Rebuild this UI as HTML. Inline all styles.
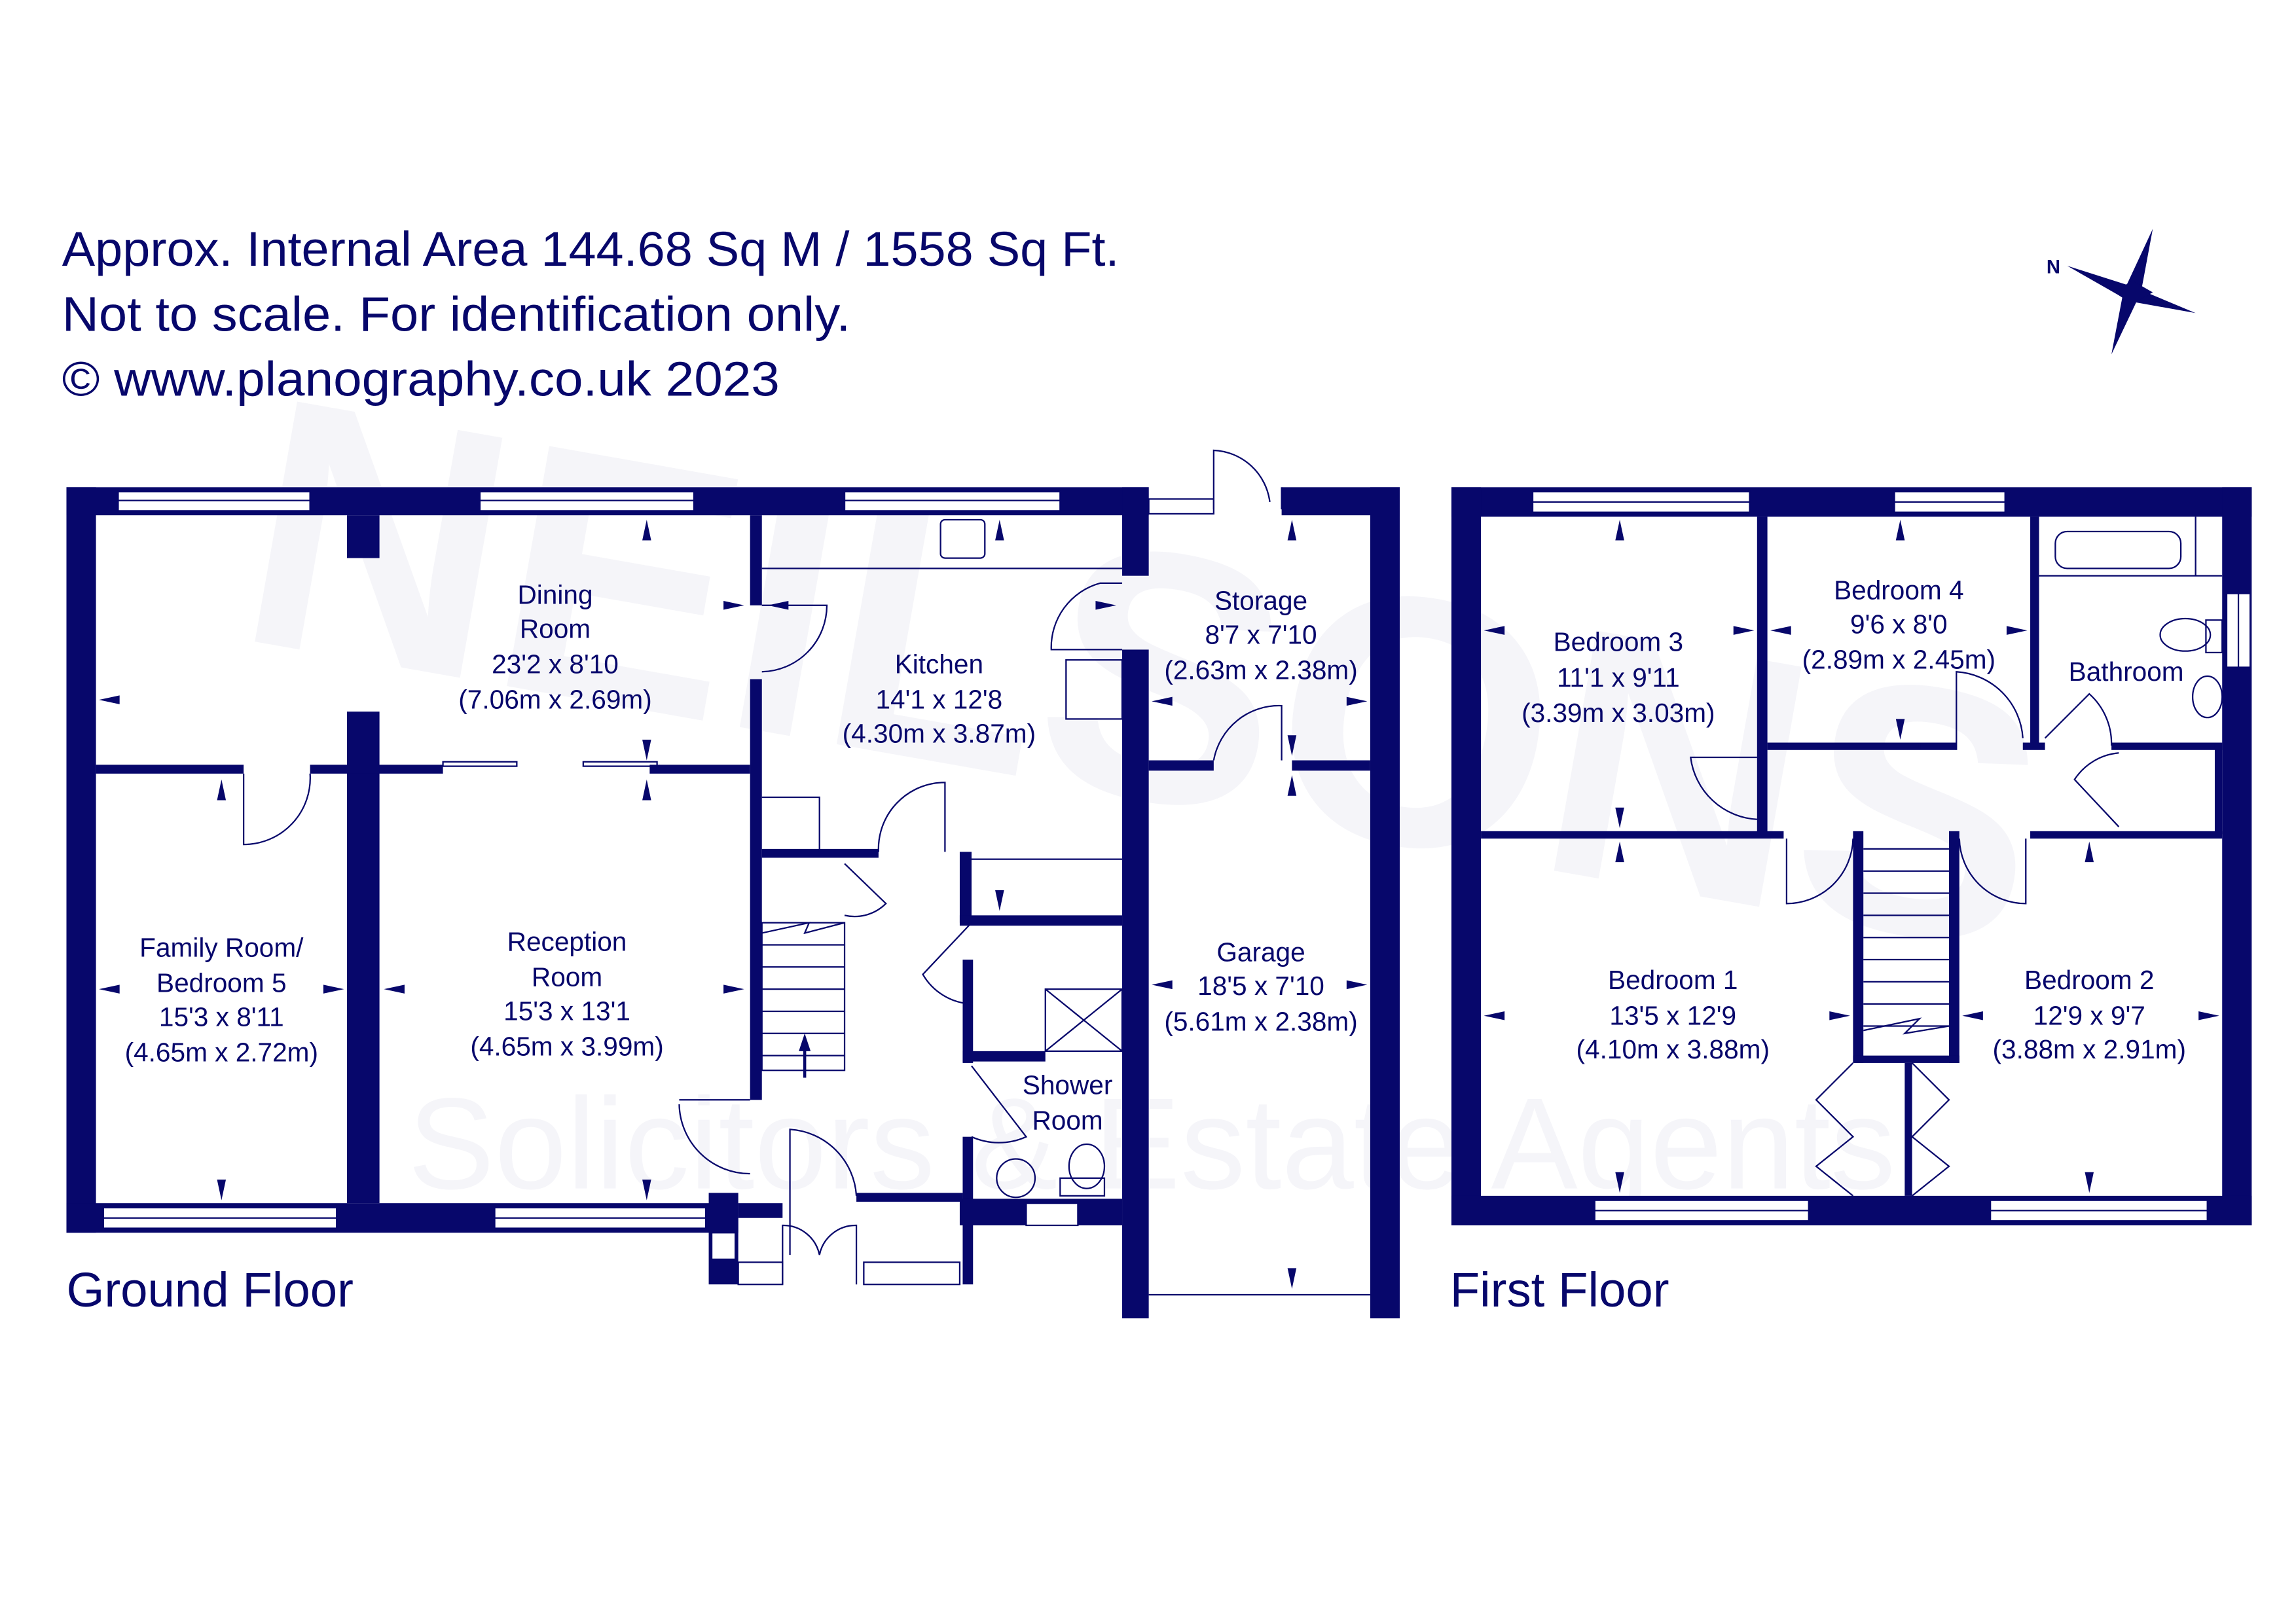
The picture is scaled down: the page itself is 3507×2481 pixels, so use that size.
<!DOCTYPE html>
<html><head><meta charset="utf-8"><style>
html,body{margin:0;padding:0;background:#fff}
svg{display:block}
text{font-family:"Liberation Sans",sans-serif;fill:#07076b}
</style></head><body>
<svg width="3507" height="2481" viewBox="0 0 1555 1100" xmlns="http://www.w3.org/2000/svg">
<rect width="1555" height="1100" fill="#fff"/>
<!-- watermark -->
<g opacity="0.035">
<text x="780" y="540" font-size="240" font-weight="bold" text-anchor="middle" style="fill:#07076b" transform="rotate(10 780 430)">NEILSONS</text>
<text x="780" y="805" font-size="88" text-anchor="middle" style="fill:#07076b">Solicitors &amp; Estate Agents</text>
</g>
<!-- header -->
<text x="42" y="180" font-size="33" textLength="716" lengthAdjust="spacingAndGlyphs">Approx. Internal Area 144.68 Sq M / 1558 Sq Ft.</text>
<text x="42" y="224" font-size="33" textLength="534" lengthAdjust="spacingAndGlyphs">Not to scale. For identification only.</text>
<text x="42" y="268" font-size="33" textLength="486" lengthAdjust="spacingAndGlyphs">© www.planography.co.uk 2023</text>
<!-- compass -->
<g fill="#07076b">
<polygon points="1458,155 1450,198 1430,240 1438,198"/>
<polygon points="1400,180 1444,194 1487,212 1442,204"/>
<polygon points="1444,190 1458,198 1444,206 1432,198" />
</g>
<text x="1386" y="185" font-size="13" font-weight="bold">N</text>

<g fill="#07076b" stroke="none">
<!-- GROUND FLOOR walls -->
<rect x="45" y="330" width="733" height="19"/>
<rect x="45" y="330" width="20" height="505"/>
<rect x="45" y="815" width="455" height="20"/>
<rect x="235" y="349" width="22" height="29"/>
<rect x="235" y="482" width="22" height="333"/>
<rect x="65" y="518" width="100" height="6"/>
<rect x="210" y="518" width="90" height="6"/>
<rect x="440" y="518" width="68" height="6"/>
<rect x="508" y="349" width="8" height="61"/>
<rect x="508" y="460" width="8" height="285"/>
<rect x="760" y="330" width="18" height="60"/>
<rect x="760" y="440" width="18" height="453"/>
<rect x="868" y="330" width="80" height="19"/>
<rect x="928" y="330" width="20" height="563"/>
<rect x="778" y="515" width="44" height="7"/>
<rect x="875" y="515" width="53" height="7"/>
<rect x="516" y="575" width="79" height="6"/>
<rect x="650" y="577" width="8" height="48"/>
<rect x="650" y="620" width="110" height="7"/>
<rect x="652" y="650" width="7" height="70"/>
<rect x="652" y="712" width="56" height="7"/>
<rect x="652" y="770" width="7" height="100"/>
<rect x="650" y="812" width="110" height="18"/>
<rect x="480" y="808" width="20" height="62"/>
<rect x="500" y="815" width="30" height="10"/>
<rect x="580" y="808" width="72" height="6"/>
<!-- FIRST FLOOR walls -->
<rect x="983" y="330" width="542" height="20"/>
<rect x="983" y="330" width="20" height="500"/>
<rect x="1505" y="330" width="20" height="500"/>
<rect x="983" y="810" width="542" height="20"/>
<rect x="1190" y="350" width="7" height="215"/>
<rect x="1375" y="350" width="6" height="155"/>
<rect x="1197" y="503" width="128" height="5"/>
<rect x="1370" y="503" width="15" height="5"/>
<rect x="1430" y="503" width="75" height="5"/>
<rect x="1500" y="503" width="5" height="62"/>
<rect x="1003" y="563" width="205" height="5"/>
<rect x="1255" y="563" width="7" height="157"/>
<rect x="1320" y="563" width="7" height="157"/>
<rect x="1255" y="715" width="72" height="5"/>
<rect x="1375" y="563" width="130" height="5"/>
<rect x="1290" y="720" width="5" height="90"/>
</g>

<g fill="#fff" stroke="#07076b" stroke-width="1">
<rect x="80" y="333" width="130" height="13"/><line x1="80" y1="339" x2="210" y2="339"/>
<rect x="325" y="333" width="145" height="13"/><line x1="325" y1="339" x2="470" y2="339"/>
<rect x="572" y="333" width="146" height="13"/><line x1="572" y1="339" x2="718" y2="339"/>
<rect x="778" y="338" width="44" height="10"/>
<rect x="70" y="818" width="158" height="14"/><line x1="70" y1="825" x2="228" y2="825"/>
<rect x="335" y="818" width="143" height="14"/><line x1="335" y1="825" x2="478" y2="825"/>
<rect x="695" y="815" width="35" height="15"/>
<rect x="482" y="835" width="16" height="18"/>
<rect x="1038" y="333" width="147" height="14"/><line x1="1038" y1="340" x2="1185" y2="340"/>
<rect x="1283" y="333" width="75" height="14"/><line x1="1283" y1="340" x2="1358" y2="340"/>
<rect x="1080" y="813" width="145" height="14"/><line x1="1080" y1="820" x2="1225" y2="820"/>
<rect x="1348" y="813" width="147" height="14"/><line x1="1348" y1="820" x2="1495" y2="820"/>
<rect x="1508" y="402" width="16" height="50"/><line x1="1516" y1="402" x2="1516" y2="452"/>
</g>

<g fill="none" stroke="#07076b" stroke-width="1">
<line x1="516" y1="385" x2="760" y2="385"/>
<rect x="637" y="352" width="30" height="26" rx="3"/>
<rect x="722" y="447" width="38" height="40"/>
<path d="M516 410 L560 410 A45 45 0 0 1 516 455"/>
<path d="M760 395 L745 395 A45 45 0 0 0 712 440 L760 440"/>
<path d="M822 345 L822 305 A40 40 0 0 1 860 340"/>
<path d="M868 330 L868 345"/>
<path d="M822 515 A45 45 0 0 1 868 478 L868 515"/>
<path d="M165 524 L165 572 A45 45 0 0 0 210 524"/>
<rect x="300" y="516" width="50" height="3"/><rect x="395" y="516" width="50" height="3"/>
<polyline points="516,540 555,540 555,577"/>
<path d="M595 577 A45 45 0 0 1 640 530 L640 577"/>
<line x1="658" y1="582" x2="760" y2="582"/>
<rect x="516" y="625" width="56" height="100"/>
<line x1="516" y1="640" x2="572" y2="640"/><line x1="516" y1="655" x2="572" y2="655"/><line x1="516" y1="670" x2="572" y2="670"/><line x1="516" y1="685" x2="572" y2="685"/><line x1="516" y1="700" x2="572" y2="700"/><line x1="516" y1="715" x2="572" y2="715"/>
<polyline points="516,632 548,625 545,632 572,625"/>
<path d="M572 585 L600 612 A30 30 0 0 1 572 620"/>
<path d="M658 625 L625 660 A40 40 0 0 0 658 680"/>
<path d="M658 722 L695 770 A45 45 0 0 1 658 770"/>
<rect x="708" y="670" width="52" height="42"/><line x1="708" y1="670" x2="760" y2="712"/><line x1="760" y1="670" x2="708" y2="712"/>
<ellipse cx="736" cy="790" rx="12" ry="15"/><rect x="718" y="798" width="30" height="12"/>
<circle cx="688" cy="798" r="13"/>
<path d="M460 745 L508 745 M460 748 A48 48 0 0 0 508 795"/>
<path d="M535 850 L535 765 A48 48 0 0 1 580 810"/>
<path d="M530 870 L530 830 A25 25 0 0 1 555 850 A25 25 0 0 1 580 830 L580 870"/>
<rect x="585" y="855" width="65" height="15"/>
<rect x="500" y="855" width="30" height="15"/>
<line x1="778" y1="877" x2="928" y2="877"/>
<rect x="1392" y="360" width="85" height="25" rx="8"/>
<line x1="1381" y1="390" x2="1505" y2="390"/><line x1="1487" y1="350" x2="1487" y2="390"/>
<ellipse cx="1480" cy="430" rx="17" ry="11"/><rect x="1494" y="420" width="11" height="22"/>
<ellipse cx="1495" cy="472" rx="10" ry="14"/>
<rect x="1230" y="504" width="70" height="3"/>
<path d="M1325 508 L1325 455 A48 48 0 0 1 1370 500"/>
<path d="M1385 500 L1415 470 A45 45 0 0 1 1430 505"/>
<path d="M1435 560 L1405 528 A40 40 0 0 1 1435 510"/>
<path d="M1190 513 L1145 513 A48 48 0 0 0 1190 555"/>
<path d="M1210 568 L1210 612 A45 45 0 0 0 1255 568"/>
<path d="M1327 568 A45 45 0 0 0 1372 612 L1372 568"/>
<line x1="1262" y1="575" x2="1320" y2="575"/><line x1="1262" y1="590" x2="1320" y2="590"/><line x1="1262" y1="605" x2="1320" y2="605"/><line x1="1262" y1="620" x2="1320" y2="620"/><line x1="1262" y1="635" x2="1320" y2="635"/><line x1="1262" y1="650" x2="1320" y2="650"/><line x1="1262" y1="665" x2="1320" y2="665"/><line x1="1262" y1="680" x2="1320" y2="680"/><line x1="1262" y1="695" x2="1320" y2="695"/>
<polyline points="1262,698 1300,690 1290,700 1320,695"/>
<path d="M1255 720 L1230 745 L1255 770 L1230 790 L1255 810"/>
<path d="M1295 720 L1320 745 L1295 770 L1320 790 L1295 810"/>
</g>

<g fill="#07076b">
<path d="M67 474 l14 -3 v6z M504 410 l-14 -3 v6z M520 410 l14 -3 v6z M756 410 l-14 -3 v6z"/>
<path d="M67 670 l14 -3 v6z M233 670 l-14 -3 v6z M260 670 l14 -3 v6z M504 670 l-14 -3 v6z"/>
<path d="M780 475 l14 -3 v6z M926 475 l-14 -3 v6z M780 667 l14 -3 v6z M926 667 l-14 -3 v6z"/>
<path d="M438 352 l-3 14 h6z M438 515 l-3 -14 h6z M438 528 l-3 14 h6z M438 813 l-3 -14 h6z"/>
<path d="M150 528 l-3 14 h6z M150 813 l-3 -14 h6z M677 352 l-3 14 h6z M677 617 l-3 -14 h6z"/>
<path d="M875 352 l-3 14 h6z M875 512 l-3 -14 h6z M875 525 l-3 14 h6z M875 873 l-3 -14 h6z"/>
<path d="M1005 427 l14 -3 v6z M1188 427 l-14 -3 v6z M1199 427 l14 -3 v6z M1373 427 l-14 -3 v6z"/>
<path d="M1005 688 l14 -3 v6z M1253 688 l-14 -3 v6z M1329 688 l14 -3 v6z M1503 688 l-14 -3 v6z"/>
<path d="M1097 352 l-3 14 h6z M1097 561 l-3 -14 h6z M1097 570 l-3 14 h6z M1097 808 l-3 -14 h6z"/>
<path d="M1287 352 l-3 14 h6z M1287 501 l-3 -14 h6z M1415 570 l-3 14 h6z M1415 808 l-3 -14 h6z"/>
<path d="M545 700 l-4 12 h8z"/><rect x="544" y="710" width="2" height="20"/>
</g>

<g font-size="18" text-anchor="middle">
<text x="376" y="409">Dining</text><text x="376" y="432">Room</text><text x="376" y="456">23'2 x 8'10</text><text x="376" y="480">(7.06m x 2.69m)</text>
<text x="636" y="456">Kitchen</text><text x="636" y="480">14'1 x 12'8</text><text x="636" y="503">(4.30m x 3.87m)</text>
<text x="854" y="413">Storage</text><text x="854" y="436">8'7 x 7'10</text><text x="854" y="460">(2.63m x 2.38m)</text>
<text x="150" y="648">Family Room/</text><text x="150" y="672">Bedroom 5</text><text x="150" y="695">15'3 x 8'11</text><text x="150" y="719">(4.65m x 2.72m)</text>
<text x="384" y="644">Reception</text><text x="384" y="668">Room</text><text x="384" y="691">15'3 x 13'1</text><text x="384" y="715">(4.65m x 3.99m)</text>
<text x="854" y="651">Garage</text><text x="854" y="674">18'5 x 7'10</text><text x="854" y="698">(5.61m x 2.38m)</text>
<text x="723" y="741">Shower</text><text x="723" y="765">Room</text>
<text x="1096" y="441">Bedroom 3</text><text x="1096" y="465">11'1 x 9'11</text><text x="1096" y="489">(3.39m x 3.03m)</text>
<text x="1286" y="406">Bedroom 4</text><text x="1286" y="429">9'6 x 8'0</text><text x="1286" y="453">(2.89m x 2.45m)</text>
<text x="1440" y="461">Bathroom</text>
<text x="1133" y="670">Bedroom 1</text><text x="1133" y="694">13'5 x 12'9</text><text x="1133" y="717">(4.10m x 3.88m)</text>
<text x="1415" y="670">Bedroom 2</text><text x="1415" y="694">12'9 x 9'7</text><text x="1415" y="717">(3.88m x 2.91m)</text>
</g>
<text x="45" y="885" font-size="33">Ground Floor</text>
<text x="982" y="885" font-size="33">First Floor</text>
</svg>
</body></html>
